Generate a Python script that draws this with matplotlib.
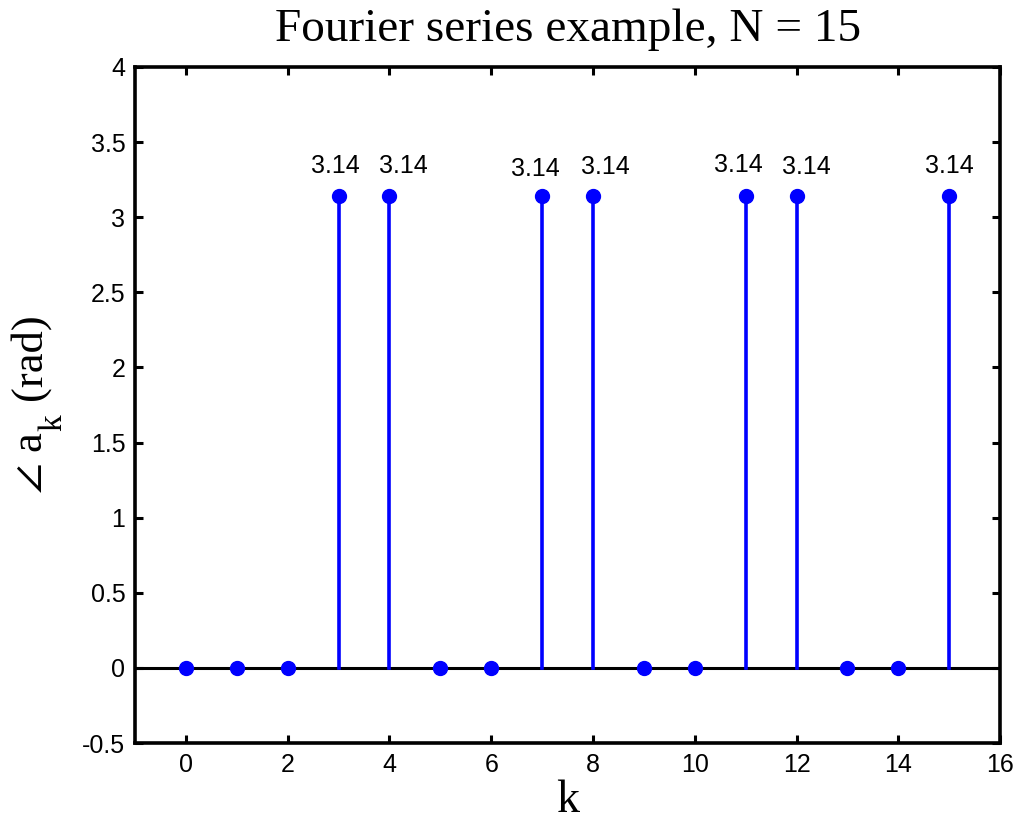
import matplotlib
matplotlib.use("Agg")
import matplotlib.pyplot as plt
import numpy as np

k = [0, 1, 2, 3, 4, 5, 6, 7, 8, 9, 10, 11, 12, 13, 14, 15]
phase = [0, 0, 0, 3.1416, 3.1416, 0, 0, 3.1416, 3.1416, 0, 0, 3.1416, 3.1416, 0, 0, 3.1416]
yticks = [-0.5, 0, 0.5, 1, 1.5, 2, 2.5, 3, 3.5, 4]
xticks = [0, 2, 4, 6, 8, 10, 12, 14, 16]

# layout: label offsets (points) for the value annotations, keyed by k
label_dx = {3: -2, 4: 10, 7: -5, 8: 9, 11: -5, 12: 7, 15: 0}
label_dy = {3: 15, 4: 15, 7: 13, 8: 14.5, 11: 16, 12: 14, 15: 15}

plt.rcParams['mathtext.fontset'] = 'custom'
plt.rcParams['mathtext.rm'] = 'Liberation Serif'
plt.rcParams['mathtext.it'] = 'Liberation Serif:italic'

W, H = 1019, 824
fig = plt.figure(figsize=(W / 100, H / 100), dpi=100)
ax = fig.add_axes([0.1325, 0.0983, 0.849, 0.8204])

ax.axhline(0, color='black', lw=2.2, zorder=1)
for kk, v in zip(k, phase):
    if v != 0:
        ax.plot([kk, kk], [0, v], color='#0000ff', lw=2.6, zorder=2)
        ax.annotate(f"{v:.2f}", (kk, v), xytext=(label_dx[kk], label_dy[kk] + 6.5),
                    textcoords='offset points', ha='center', va='center',
                    fontsize=18, family='Liberation Sans')
ax.plot(k, phase, 'o', color='#0000ff', ms=10, zorder=3, clip_on=False)

ax.set_xlim(-1, 16)
ax.set_ylim(-0.5, 4)
ax.set_xticks(xticks)
ax.set_yticks(yticks)
ax.set_xticklabels([f"{t:g}" for t in xticks])
ax.set_yticklabels([f"{t:g}" for t in yticks])
for lab in ax.get_xticklabels() + ax.get_yticklabels():
    lab.set_family('Liberation Sans')
    lab.set_fontsize(18)
ax.tick_params(direction='in', length=6, width=2.2, top=True, right=True, pad=7)
for s in ax.spines.values():
    s.set_linewidth(2.6)

ax.set_title("Fourier series example, N = 15", family='Liberation Serif', fontsize=34, pad=18.5)
ax.set_xlabel("k", family='Liberation Serif', fontsize=33, labelpad=2)

# y label composed of pieces (rotated), with a deep subscript as in the original
def ftext(x, y, s, size=32):
    return fig.text(x / W, 1 - y / H, s, rotation=90, rotation_mode='anchor',
                    ha='left', va='baseline', family='Liberation Serif', fontsize=size)

ftext(42, 494, r"$\angle$ a")
ftext(61, 431, "k", size=24)
ftext(41, 400, "(rad)")

fig.savefig("out.png", dpi=100)
